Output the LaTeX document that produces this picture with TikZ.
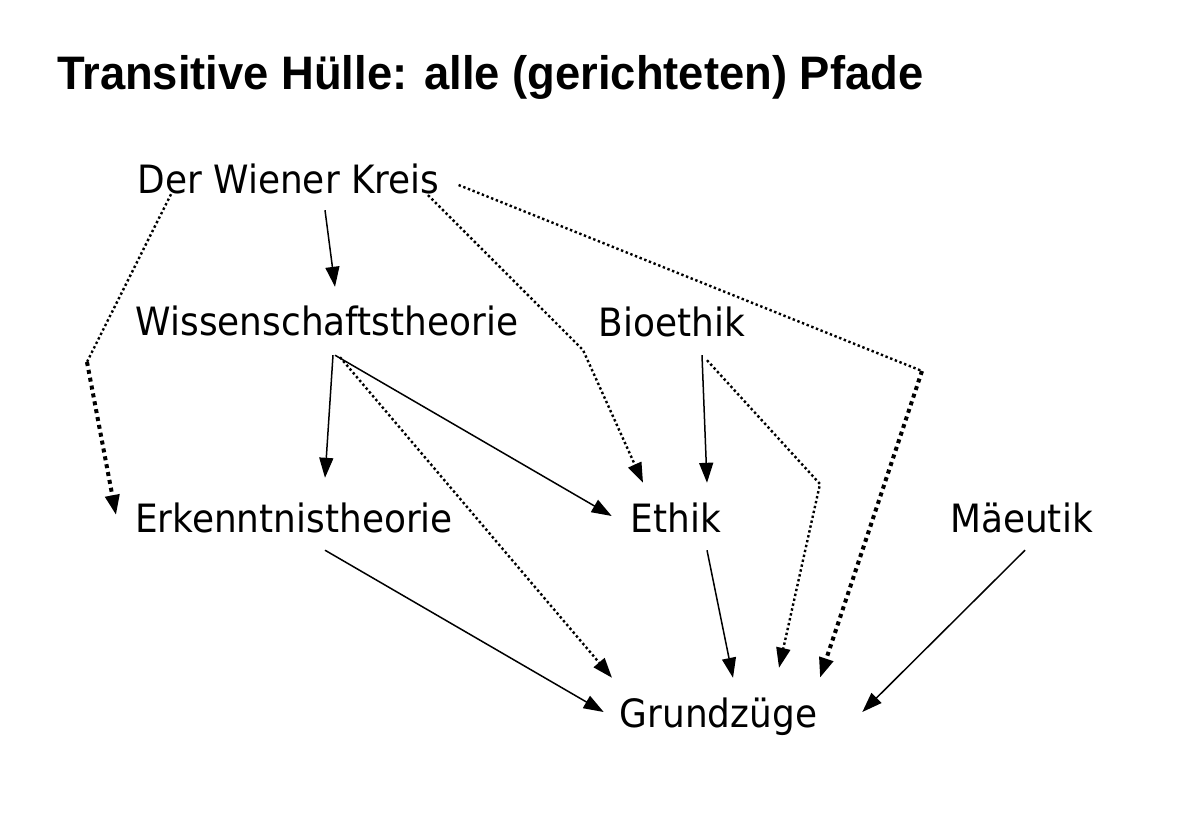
\documentclass[tikz,border=0pt]{standalone}
\usepackage{fontspec}
\setmainfont{DejaVu Sans}[FakeStretch=0.92]
\newfontfamily\titlefont{Liberation Sans}[FakeStretch=0.965]
\usepackage{tikz}
\usetikzlibrary{arrows.meta,calc}

\tikzset{
  term/.style={inner sep=0pt,text height=29pt,text depth=9pt,anchor=base,
    font=\fontsize{39}{46}\selectfont},
  link/.style={line width=1.5pt,-{Triangle[length=20pt,width=14pt]}},
  thinlink/.style={line width=2.4pt,dash pattern=on 2.4pt off 2.6pt},
  thicklink/.style={line width=4pt,dash pattern=on 4pt off 4pt},
  tip/.style={-{Triangle[length=20pt,width=14pt]}}
}

\begin{document}
\begin{tikzpicture}[x=1pt,y=-1pt]
\useasboundingbox (0,0) rectangle (1178,814);

\node[anchor=base west,inner sep=0pt,font=\titlefont\bfseries\fontsize{47}{56}\selectfont]
  (title) at (57,89) {Transitive Hülle: alle (gerichteten) Pfade};

\node[term] (dwk) at (288.5,193) {Der Wiener Kreis};
\node[term] (wt)  at (327,335)   {Wissenschaftstheorie};
\node[term] (bio) at (672,336)   {Bioethik};
\node[term] (erk) at (294,532)   {Erkenntnistheorie};
\node[term] (eth) at (676,532)   {Ethik};
\node[term] (mae) at (1021.5,532){Mäeutik};
\node[term] (gz)  at (718.5,727) {Grundzüge};

% Knicke der gepunkteten Pfade
\coordinate (k1) at (87,362);
\coordinate (k2) at (583,350);
\coordinate (k3) at (922,371);
\coordinate (k4) at (820,484);

% direkte Kanten
\draw[link] ($(dwk.south)+(36.5,8)$) -- ($(wt.north)+(8,-19)$);
\draw[link] ($(wt.south)+(6,11)$) -- ($(erk.north)+(31,-25)$);
\draw[link] ($(wt.south)+(8,11)$) -- ($(eth.west)+(-19,-6)$);
\draw[link] ($(bio.south)+(30,10)$) -- ($(eth.north)+(31,-20)$);
\draw[link] ($(eth.south)+(31,9)$) -- ($(gz.north)+(14.5,-20)$);
\draw[link] ($(erk.south)+(31,9)$) -- ($(gz.west)+(-16,-5)$);
\draw[link] ($(mae.south)+(3.5,9)$) -- ($(gz.east)+(45,-5)$);

% transitive Kanten
\draw[thinlink] ($(dwk.south)+(-117.5,-8)$) -- (k1);
\draw[thicklink,tip] (k1) -- ($(erk.west)+(-19,-7)$);
\draw[thinlink,tip] ($(dwk.south)+(139.5,-7)$) -- (k2) -- ($(eth.north)+(-33,-20)$);
\draw[thinlink] ($(dwk.east)+(19,2)$) -- (k3);
\draw[thicklink,tip] (k3) -- ($(gz.north)+(101.5,-20)$);
\draw[thinlink,tip] ($(wt.south)+(13,13)$) -- ($(gz.north)+(-106.5,-20)$);
\draw[thinlink,tip] ($(bio.south)+(35,15)$) -- (k4) -- ($(gz.north)+(60.5,-30)$);
\end{tikzpicture}
\end{document}
